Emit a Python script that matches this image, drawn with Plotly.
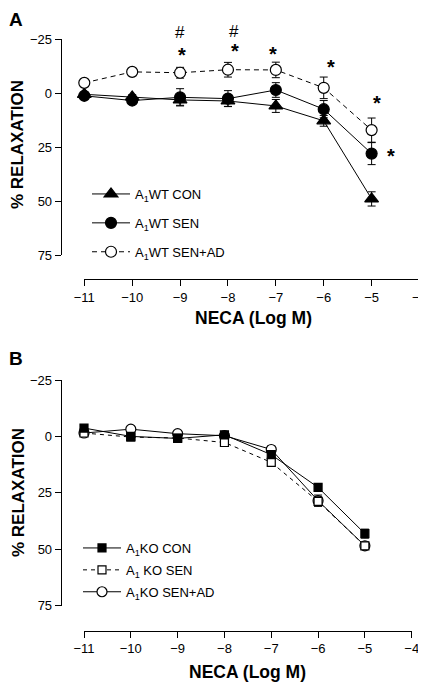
import plotly.graph_objects as go

# page is offset by the default 8px body margin; work in page pixels and convert
OFF = 8
W, H = 426 - OFF, 682 - OFF

# ---------------- data ----------------
neca = [-11, -10, -9, -8, -7, -6, -5]

# Panel A (A1 WT)
wt_con = [0.5, 1.7, 3.1, 3.6, 5.9, 12.8, 49.0]
wt_con_err = [1.0, 1.0, 2.5, 2.5, 3.0, 2.5, 3.3]
wt_sen = [1.2, 3.4, 1.9, 2.5, -1.5, 7.4, 28.0]
wt_sen_err = [1.0, 1.2, 4.0, 3.7, 3.4, 4.0, 5.1]
wt_senad = [-4.8, -9.9, -9.5, -10.9, -10.8, -2.5, 17.1]
wt_senad_err = [1.0, 1.0, 2.5, 3.4, 3.6, 5.0, 5.6]

# Panel B (A1 KO)
ko_con = [-3.7, 0.0, 0.9, -0.7, 8.1, 22.6, 43.1]
ko_con_err = [1.0, 1.0, 1.0, 1.0, 1.5, 1.5, 2.0]
ko_sen = [-1.5, 0.3, 0.7, 2.7, 11.5, 28.8, 48.5]
ko_sen_err = [1.0, 1.0, 1.0, 1.0, 1.5, 2.0, 1.5]
ko_senad = [-1.5, -3.2, -1.2, -0.3, 5.8, 28.5, 48.5]
ko_senad_err = [1.0, 1.0, 1.0, 1.0, 1.5, 2.5, 1.5]

x_ticks = [-11, -10, -9, -8, -7, -6, -5, -4]
y_ticks = [-25, 0, 25, 50, 75]
Y_RANGE = [75, -25]

# significance marks (panel A), in data units
star_x = [-8.95, -7.86, -7.06, -5.85, -4.89, -4.60]
star_y = [-19.7, -21.4, -20.0, -14.0, 2.6, 27.2]
hash_x = [-9.0, -7.875]
hash_y = [-28.2, -28.4]

FONT = "Arial, Liberation Sans, sans-serif"

# geometry in page pixels
A_YTOP, A_YBOT = 39.3, 255.0
B_YTOP, B_YBOT = 380.0, 605.6


def py(px):
    return 1 - (px - OFF) / H


def pxx(px):
    return (px - OFF) / W


def y_to_paper(v, top, bot):
    frac = (v - Y_RANGE[1]) / (Y_RANGE[0] - Y_RANGE[1])
    return py(top + frac * (bot - top))


fig = go.Figure()


def add(x, y, err, name, symbol, fill, dash, size, xa, ya, legend, rank):
    fig.add_trace(go.Scatter(
        x=x, y=y, name=name, mode="lines+markers",
        xaxis=xa, yaxis=ya, legend=legend, legendrank=rank, legendgroup=name,
        cliponaxis=False,
        line=dict(color="black", width=1, dash=dash),
        marker=dict(symbol=symbol, size=size, color=fill,
                    line=dict(color="black", width=1.2)),
        error_y=dict(type="data", array=err, visible=True, color="black",
                     thickness=1, width=4),
    ))


add(neca, wt_con, wt_con_err, "A<sub>1</sub>WT CON", "triangle-up", "black", "solid", 12, "x", "y", "legend", 1)
add(neca, wt_sen, wt_sen_err, "A<sub>1</sub>WT SEN", "circle", "black", "solid", 11, "x", "y", "legend", 2)
add(neca, wt_senad, wt_senad_err, "A<sub>1</sub>WT SEN+AD", "circle", "white", "5px,4px", 11, "x", "y", "legend", 3)

add(neca, ko_senad, ko_senad_err, "A<sub>1</sub>KO SEN+AD", "circle", "white", "solid", 10, "x2", "y2", "legend2", 3)
add(neca, ko_sen, ko_sen_err, "A<sub>1</sub> KO SEN", "square", "white", "4px,4px", 8, "x2", "y2", "legend2", 2)
add(neca, ko_con, ko_con_err, "A<sub>1</sub>KO CON", "square", "black", "solid", 8, "x2", "y2", "legend2", 1)

axis_common = dict(showline=True, linecolor="black", linewidth=1, ticks="outside",
                   ticklen=6, tickwidth=1, tickcolor="black", showgrid=False,
                   zeroline=False, automargin=False,
                   tickfont=dict(family=FONT, size=13, color="black"))

fig.update_layout(
    width=W, height=H, margin=dict(l=0, r=0, t=0, b=0, autoexpand=False),
    paper_bgcolor="white", plot_bgcolor="white",
    xaxis=dict(domain=[pxx(84.3), pxx(419.5)], range=[-11, -4], tickvals=x_ticks,
               anchor="free", position=py(279.3), ticklabeloverflow="allow", **axis_common),
    yaxis=dict(domain=[py(A_YBOT), py(A_YTOP)], range=Y_RANGE, tickvals=y_ticks,
               anchor="free", position=pxx(60.7), **axis_common),
    xaxis2=dict(domain=[pxx(84), pxx(411.7)], range=[-11, -4], tickvals=x_ticks,
                anchor="free", position=py(630.7), ticklabeloverflow="allow", **axis_common),
    yaxis2=dict(domain=[py(B_YBOT), py(B_YTOP)], range=Y_RANGE, tickvals=y_ticks,
                anchor="free", position=pxx(60.7), **axis_common),
    legend=dict(x=pxx(87), y=py(179), xanchor="left", yanchor="top", itemwidth=38,
                font=dict(family=FONT, size=13, color="black"),
                bgcolor="rgba(0,0,0,0)", traceorder="grouped", tracegroupgap=9),
    legend2=dict(x=pxx(78), y=py(533), xanchor="left", yanchor="top", itemwidth=38,
                 font=dict(family=FONT, size=13, color="black"),
                 bgcolor="rgba(0,0,0,0)", traceorder="grouped", tracegroupgap=2),
    showlegend=True,
)

ann = []
for xv, yv in zip(star_x, star_y):
    ann.append(dict(x=xv, y=y_to_paper(yv, A_YTOP, A_YBOT), xref="x", yref="paper",
                    xanchor="center", yanchor="middle",
                    text="*", showarrow=False, yshift=-4,
                    font=dict(family=FONT, size=20, color="black", weight="bold")))
for xv, yv in zip(hash_x, hash_y):
    ann.append(dict(x=xv, y=y_to_paper(yv, A_YTOP, A_YBOT), xref="x", yref="paper",
                    xanchor="center", yanchor="middle",
                    text="#", showarrow=False,
                    font=dict(family=FONT, size=17, color="black")))


def label(text, x, y, size, angle=0):
    return dict(x=pxx(x), y=py(y), xref="paper", yref="paper", text=text, showarrow=False,
                xanchor="center", yanchor="middle", textangle=angle,
                font=dict(family=FONT, size=size, color="black"))


ann += [
    label("<b>A</b>", 16, 20, 19),
    label("<b>B</b>", 16, 358, 19),
    label("<b>NECA (Log M)</b>", 253.5, 318, 17.5),
    label("<b>NECA (Log M)</b>", 247.5, 671.5, 17.5),
    label("<b>% RELAXATION</b>", 18, 145, 17, -90),
    label("<b>% RELAXATION</b>", 18, 493, 17, -90),
]
fig.update_layout(annotations=ann)

fig.write_html("out.html")
